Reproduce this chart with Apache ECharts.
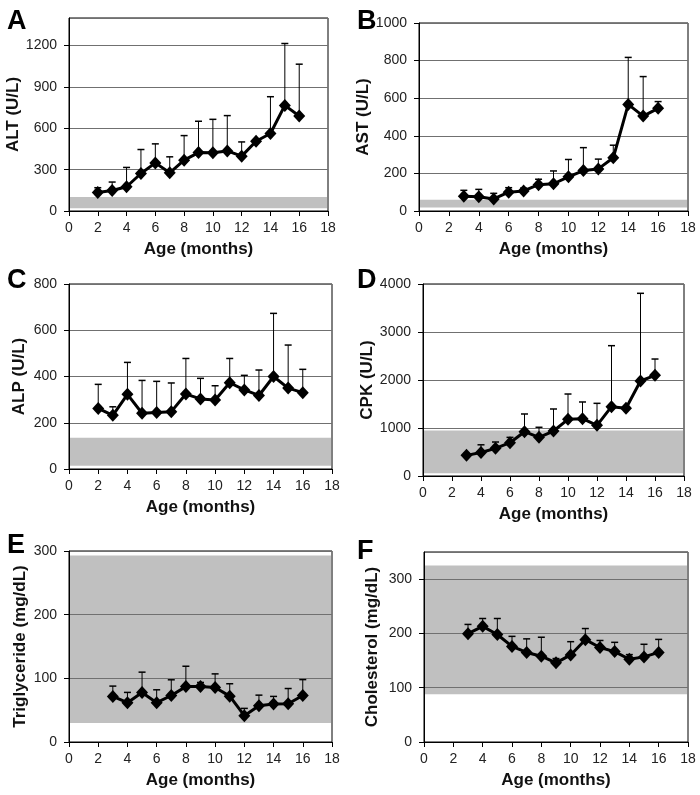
<!DOCTYPE html>
<html>
<head>
<meta charset="utf-8">
<script src="https://cdn.jsdelivr.net/npm/echarts@6/dist/echarts.min.js"></script>
<style>
html,body{margin:0;padding:0;background:#fff;}
#chart{width:700px;height:795px;}
</style>
</head>
<body>
<div id="chart"></div>
<script>
// ---- Data ----
const xTicks = [0, 2, 4, 6, 8, 10, 12, 14, 16, 18];

const altAges = [2, 3, 4, 5, 6, 7, 8, 9, 10, 11, 12, 13, 14, 15, 16];
const altMean = [135, 149, 176, 272, 349, 277, 369, 424, 422, 436, 398, 506, 562, 766, 689];
const altSD   = [34, 61, 140, 174, 138, 116, 178, 227, 243, 256, 103, 10, 267, 449, 376];
const altNormal = [20, 102];

const astAges = [3, 4, 5, 6, 7, 8, 9, 10, 11, 12, 13, 14, 15, 16];
const astMean = [79, 76, 64, 100, 107, 140, 145, 182, 215, 224, 283, 567, 505, 546];
const astSD   = [31, 39, 30, 24, 15, 29, 68, 92, 122, 52, 67, 250, 210, 36];
const astNormal = [18, 60];

const alpAges = [2, 3, 4, 5, 6, 7, 8, 9, 10, 11, 12, 13, 14, 15, 16];
const alpMean = [262, 232, 323, 241, 244, 248, 324, 303, 298, 373, 342, 318, 400, 350, 330];
const alpSD   = [104, 37, 138, 142, 135, 124, 154, 89, 62, 105, 63, 110, 273, 186, 101];
const alpNormal = [14, 135];

const cpkAges = [3, 4, 5, 6, 7, 8, 9, 10, 11, 12, 13, 14, 15, 16];
const cpkMean = [430, 490, 576, 694, 923, 806, 937, 1181, 1194, 1056, 1444, 1410, 1979, 2097];
const cpkSD   = [40, 160, 132, 111, 369, 209, 459, 527, 348, 458, 1271, 20, 1827, 340];
const cpkNormal = [55, 950];

const tgAges = [3, 4, 5, 6, 7, 8, 9, 10, 11, 12, 13, 14, 15, 16];
const tgMean = [71.6, 61.7, 77.9, 61.7, 73, 87, 87, 85.7, 72, 41.3, 57, 59.6, 60, 73];
const tgSD   = [16.2, 16.2, 31.8, 20.3, 24.7, 32, 6.5, 21.3, 19.5, 11.5, 16.6, 12, 24, 25];
const tgNormal = [30, 293];

const cholAges = [3, 4, 5, 6, 7, 8, 9, 10, 11, 12, 13, 14, 15, 16];
const cholMean = [199.5, 213, 198, 176, 165, 158, 145.8, 160.4, 188.5, 174, 166.5, 152.5, 156.8, 165];
const cholSD   = [17.1, 14.5, 29.5, 18.6, 25, 35, 7.9, 24.4, 20.5, 13, 17.1, 8.5, 23.2, 24];
const cholNormal = [88, 325];

// ---- Panel layout ----
const panels = [
  {letter:'A', name:'ALT (U/L)', ages:altAges, mean:altMean, sd:altSD, normal:altNormal, max:1400, interval:300, hideMax:true,
   grid:{left:69, top:18, width:259, height:193}, nameGap:41, lx:7, ly:8},
  {letter:'B', name:'AST (U/L)', ages:astAges, mean:astMean, sd:astSD, normal:astNormal, max:1000, interval:200, hideMax:false,
   grid:{left:419, top:23, width:269, height:188}, nameGap:41, lx:357, ly:8},
  {letter:'C', name:'ALP (U/L)', ages:alpAges, mean:alpMean, sd:alpSD, normal:alpNormal, max:800, interval:200, hideMax:false,
   grid:{left:69, top:284, width:263, height:185}, nameGap:41, lx:7, ly:267},
  {letter:'D', name:'CPK (U/L)', ages:cpkAges, mean:cpkMean, sd:cpkSD, normal:cpkNormal, max:4000, interval:1000, hideMax:false,
   grid:{left:423, top:284, width:261, height:192}, nameGap:46, lx:357, ly:267},
  {letter:'E', name:'Triglyceride (mg/dL)', ages:tgAges, mean:tgMean, sd:tgSD, normal:tgNormal, max:300, interval:100, hideMax:false,
   grid:{left:69, top:551, width:263, height:191}, nameGap:40, lx:7, ly:532},
  {letter:'F', name:'Cholesterol (mg/dL)', ages:cholAges, mean:cholMean, sd:cholSD, normal:cholNormal, max:350, interval:100, hideMax:true,
   grid:{left:424, top:552, width:264, height:190}, nameGap:43, lx:357, ly:538}
];

const FONT = '"Liberation Sans", Arial, sans-serif';

function bandRender(params, api) {
  const cs = params.coordSys;
  const yLow = api.coord([0, api.value(1)])[1];
  const yHigh = api.coord([0, api.value(2)])[1];
  return {
    type: 'rect',
    shape: {x: cs.x + 1, y: yHigh, width: cs.width - 2, height: yLow - yHigh},
    style: {fill: '#c0c0c0'}
  };
}

function errRender(params, api) {
  const x = api.value(0), m = api.value(1), u = api.value(2);
  const p0 = api.coord([x, m]);
  const p1 = api.coord([x, u]);
  return {
    type: 'group',
    children: [
      {type:'line', shape:{x1:p0[0], y1:p0[1], x2:p1[0], y2:p1[1]}, style:{stroke:'#000', lineWidth:1}},
      {type:'line', shape:{x1:p1[0]-3.5, y1:p1[1], x2:p1[0]+3.5, y2:p1[1]}, style:{stroke:'#000', lineWidth:1.5}}
    ]
  };
}

const plain = v => String(v);

const grids = [], xAxes = [], yAxes = [], series = [], graphics = [];
panels.forEach((p, i) => {
  grids.push(Object.assign({show:true, borderColor:'#000', borderWidth:1, backgroundColor:'transparent'}, p.grid));
  xAxes.push({
    type:'value', gridIndex:i, min:xTicks[0], max:xTicks[xTicks.length-1], interval:xTicks[1]-xTicks[0],
    name:'Age (months)', nameLocation:'middle', nameGap:30,
    nameTextStyle:{fontFamily:FONT, fontWeight:'bold', fontSize:17, color:'#111'},
    axisLine:{show:true, lineStyle:{color:'#000', width:1}},
    axisTick:{show:true, length:5, lineStyle:{color:'#000'}},
    axisLabel:{fontFamily:FONT, fontSize:14, color:'#222', margin:10, formatter:plain},
    splitLine:{show:false}
  });
  yAxes.push({
    type:'value', gridIndex:i, min:0, max:p.max, interval:p.interval,
    name:p.name, nameLocation:'middle', nameGap:p.nameGap,
    nameTextStyle:{fontFamily:FONT, fontWeight:'bold', fontSize:17, color:'#111'},
    axisLine:{show:true, lineStyle:{color:'#000', width:1}},
    axisTick:{show:true, length:5, lineStyle:{color:'#000'}},
    axisLabel:{fontFamily:FONT, fontSize:14, color:'#222', margin:12, showMaxLabel:!p.hideMax, formatter:plain},
    splitLine:{show:true, lineStyle:{color:'#707070', width:1}}
  });
  series.push({
    type:'custom', xAxisIndex:i, yAxisIndex:i, z:-1, silent:true,
    renderItem:bandRender,
    data:[[0, p.normal[0], p.normal[1]]]
  });
  series.push({
    type:'custom', xAxisIndex:i, yAxisIndex:i, z:2, silent:true,
    renderItem:errRender,
    data:p.ages.map((a, k) => [a, p.mean[k], p.mean[k] + p.sd[k]])
  });
  series.push({
    type:'line', xAxisIndex:i, yAxisIndex:i, z:3, silent:true,
    data:p.ages.map((a, k) => [a, p.mean[k]]),
    symbol:'diamond', symbolSize:[12, 13],
    lineStyle:{color:'#000', width:3},
    itemStyle:{color:'#000'},
    animation:false
  });
  graphics.push({
    type:'text', left:p.lx, top:p.ly,
    style:{text:p.letter, font:'bold 27px ' + FONT, fill:'#000'}
  });
});

const chart = echarts.init(document.getElementById('chart'), null, {renderer:'canvas'});
chart.setOption({
  animation:false,
  backgroundColor:'#fff',
  grid:grids, xAxis:xAxes, yAxis:yAxes, series:series, graphic:graphics
});
</script>
</body>
</html>
